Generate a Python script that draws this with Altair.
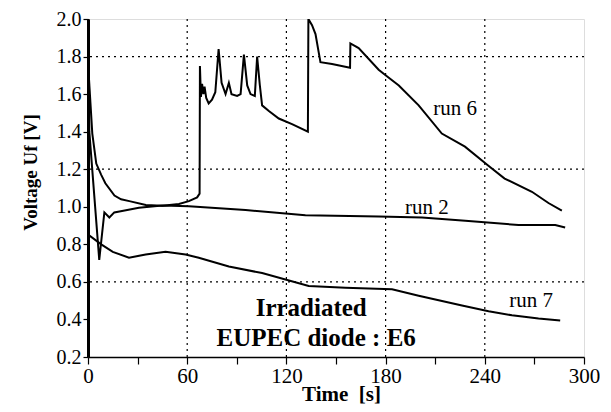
import altair as alt
import pandas as pd

# ---- data ----
run6_t = [0, 0.6, 2.6, 5, 8, 10.5, 16, 20, 25, 35, 45, 55, 61, 66, 67.5,
          67.7, 68.3, 69, 69.8, 70.5, 71.5, 73, 75, 77, 79, 80.8, 83.2, 85.2, 86.8,
          90.2, 92.3, 94.3, 96.3, 98.3, 100.9, 102.3, 103.9, 105.3, 109.4, 115.4,
          123.4, 133, 133.3, 135.5, 137.6, 139.6, 140.6, 147.6, 158.5, 158.7, 163.7,
          175.8, 180, 188, 200, 214, 228, 242, 252, 268.5, 278.5, 286.6]
run6_v = [2.0, 1.68, 1.39, 1.23, 1.17, 1.125, 1.06, 1.04, 1.03, 1.01, 1.005, 1.015, 1.03, 1.05, 1.07,
          1.75, 1.585, 1.655, 1.6, 1.64, 1.58, 1.55, 1.57, 1.61, 1.84, 1.66, 1.6, 1.66, 1.6,
          1.59, 1.6, 1.81, 1.646, 1.6, 1.59, 1.80, 1.65, 1.54, 1.51, 1.47,
          1.44, 1.40, 2.0, 1.967, 1.92, 1.82, 1.77, 1.76, 1.74, 1.87, 1.845,
          1.73, 1.70, 1.646, 1.54, 1.39, 1.32, 1.22, 1.15, 1.08, 1.02, 0.98]

run2_t = [0.2, 0.8, 6.8, 9.9, 12.9, 15.9, 19, 30.8, 44.9, 61, 95.3, 131.5, 175.8,
          202, 228.2, 260.4, 282.6, 288.6]
run2_v = [2.0, 1.40, 0.717, 0.97, 0.943, 0.97, 0.975, 0.995, 1.007, 1.003, 0.983, 0.955, 0.948,
          0.943, 0.925, 0.903, 0.903, 0.89]

run7_t = [0, 0, 0.3, 8, 15, 24.8, 34.9, 46.9, 59, 67, 85.2, 105.3, 133.5, 155.7,
          183.9, 200, 226.2, 242.3, 256.4, 272.5, 285.6]
run7_v = [2.0, 0.2, 0.85, 0.80, 0.76, 0.729, 0.746, 0.76, 0.746, 0.729, 0.682, 0.647, 0.578, 0.569,
          0.561, 0.526, 0.474, 0.444, 0.422, 0.405, 0.394]

grid_x = [60, 120, 180, 240]
grid_y = [0.6, 1.2, 1.8]
x_ticks = [0, 30, 60, 90, 120, 150, 180, 210, 240, 270, 300]
y_ticks = [0.2, 0.4, 0.6, 0.8, 1.0, 1.2, 1.4, 1.6, 1.8, 2.0]

run_labels = ["run 6", "run 2", "run 7"]
run_label_t = [222, 205, 268]
run_label_v = [1.52, 0.995, 0.50]

note_lines = ["Irradiated", "EUPEC diode : E6"]
note_t = [135, 138]
note_v = [0.463, 0.30]

# ---- build tables ----
rows = []
for name, ts, vs in [("run 6", run6_t, run6_v), ("run 2", run2_t, run2_v), ("run 7", run7_t, run7_v)]:
    for i, (t, v) in enumerate(zip(ts, vs)):
        rows.append({"run": name, "t": t, "v": v, "i": i})
df = pd.DataFrame(rows)
gx = pd.DataFrame({"t": grid_x})
gy = pd.DataFrame({"v": grid_y})
lab = pd.DataFrame({"text": run_labels, "t": run_label_t, "v": run_label_v})
note = pd.DataFrame({"text": note_lines, "t": note_t, "v": note_v})

FONT = "Liberation Serif, DejaVu Serif, serif"
x_scale = alt.Scale(domain=[0, 300], nice=False, zero=False)
y_scale = alt.Scale(domain=[0.2, 2.0], nice=False, zero=False)

x_axis = alt.Axis(title="Time\u00a0\u00a0[s]", values=x_ticks,
                  labelExpr="datum.value % 60 == 0 ? datum.label : ''",
                  labelFlush=False,
                  grid=False, domainColor="black", domainWidth=1.5,
                  tickColor="black", tickSize=7, tickWidth=1.2,
                  labelFont=FONT, labelFontSize=21, labelColor="black", labelPadding=1,
                  titleFont=FONT, titleFontSize=21, titleFontWeight="bold", titleColor="black",
                  titleX=253, titleY=37, titleBaseline="middle")
y_axis = alt.Axis(title="Voltage Uf [V]", values=y_ticks, format=".1f",
                  labelFlush=False,
                  grid=False, domainColor="black", domainWidth=3,
                  tickColor="black", tickSize=5, tickWidth=1.2,
                  labelFont=FONT, labelFontSize=20, labelColor="black", labelPadding=2,
                  titleFont=FONT, titleFontSize=19, titleFontWeight="bold", titleColor="black",
                  titleX=-58, titleY=153, titleBaseline="middle", titleAngle=-90)

X = alt.X("t:Q", scale=x_scale, axis=x_axis)
Y = alt.Y("v:Q", scale=y_scale, axis=y_axis)

vgrid = alt.Chart(gx).mark_rule(color="black", strokeDash=[2, 4], strokeWidth=1.2).encode(x=X)
hgrid = alt.Chart(gy).mark_rule(color="black", strokeDash=[2, 4], strokeWidth=1.2).encode(y=Y)

lines = alt.Chart(df).mark_line(color="black", strokeWidth=2, clip=True).encode(
    x=X, y=Y, detail="run:N", order="i:Q")

labels = alt.Chart(lab).mark_text(font=FONT, fontSize=21, color="black",
                                  align="center", baseline="middle").encode(x=X, y=Y, text="text:N")
notes = alt.Chart(note).mark_text(font=FONT, fontSize=25, fontWeight="bold", color="black",
                                  align="center", baseline="middle").encode(x=X, y=Y, text="text:N")

chart = alt.layer(vgrid, hgrid, lines, labels, notes).properties(
    width=496, height=338,
    padding={"left": 80, "top": 11, "right": 16, "bottom": 50},
    autosize="none",
).configure_view(stroke="black", strokeWidth=1.5).configure(background="white")

chart.save("out.html", embed_options={"renderer": "svg", "actions": False})
